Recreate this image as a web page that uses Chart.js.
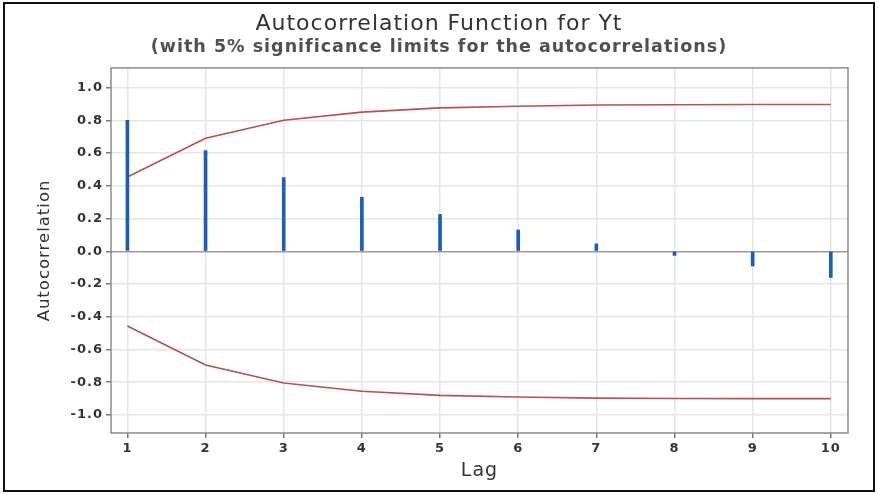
<!DOCTYPE html>
<html>
<head>
<meta charset="utf-8">
<script src="https://cdn.jsdelivr.net/npm/chart.js@4.4.1/dist/chart.umd.min.js"></script>
<style>
  html, body { margin: 0; padding: 0; background: #fff; }
  #wrap { position: relative; width: 878px; height: 494px; }
</style>
</head>
<body>
<div id="wrap"><canvas id="acf" width="878" height="494"></canvas></div>
<script>
// datos
const lags = [1, 2, 3, 4, 5, 6, 7, 8, 9, 10];
const acf = [0.80, 0.615, 0.45, 0.33, 0.225, 0.13, 0.045, -0.025, -0.09, -0.16];
const upperLimit = [0.454, 0.69, 0.80, 0.85, 0.876, 0.886, 0.893, 0.895, 0.896, 0.896];
const lowerLimit = [-0.456, -0.695, -0.805, -0.855, -0.88, -0.89, -0.897, -0.899, -0.90, -0.90];
const yTicks = [-1.0, -0.8, -0.6, -0.4, -0.2, 0.0, 0.2, 0.4, 0.6, 0.8, 1.0];
const xTicks = lags;

const textColor = '#333';
const fontName = "'DejaVu Sans', sans-serif";

// fondo, espaciado de letras, marco del grafico y borde exterior
const framePlugin = {
  id: 'frame',
  beforeDraw(chart) {
    const c = chart.ctx;
    c.save();
    c.fillStyle = '#fff';
    c.fillRect(0, 0, chart.width, chart.height);
    c.restore();
    // el texto del original es algo mas ancho
    c.letterSpacing = '1px';
  },
  afterDraw(chart) {
    const a = chart.chartArea;
    const c = chart.ctx;
    c.save();
    c.strokeStyle = '#8a8a8a';
    c.lineWidth = 1.5;
    c.strokeRect(a.left, a.top, a.right - a.left, a.bottom - a.top);
    c.strokeStyle = '#111';
    c.lineWidth = 2;
    c.strokeRect(4, 3, 870, 488);
    c.restore();
  }
};

const ctx = document.getElementById('acf');

new Chart(ctx, {
  data: {
    datasets: [
      {
        type: 'bar',
        label: 'ACF',
        data: lags.map((l, i) => ({ x: l, y: acf[i] })),
        backgroundColor: '#1d5db3',
        borderWidth: 0,
        barThickness: 3,
        order: 1
      },
      {
        type: 'line',
        label: 'Upper',
        data: lags.map((l, i) => ({ x: l, y: upperLimit[i] })),
        borderColor: '#bb4f4f',
        borderWidth: 1.6,
        pointRadius: 0,
        fill: false,
        order: 2
      },
      {
        type: 'line',
        label: 'Lower',
        data: lags.map((l, i) => ({ x: l, y: lowerLimit[i] })),
        borderColor: '#bb4f4f',
        borderWidth: 1.6,
        pointRadius: 0,
        fill: false,
        order: 2
      }
    ]
  },
  options: {
    responsive: false,
    animation: false,
    layout: { padding: 0 },
    plugins: {
      legend: { display: false },
      tooltip: { enabled: false },
      title: {
        display: true,
        text: 'Autocorrelation Function for Yt',
        color: textColor,
        font: { family: fontName, size: 22, weight: 'normal' },
        padding: { top: 11, bottom: 0 }
      },
      subtitle: {
        display: true,
        text: '(with 5% significance limits for the autocorrelations)',
        color: '#505050',
        font: { family: fontName, size: 17.5, weight: 'bold' },
        padding: { top: 0, bottom: 9.5 }
      }
    },
    scales: {
      x: {
        type: 'linear',
        min: 0.79,
        max: 10.22,
        offset: false,
        afterBuildTicks(scale) { scale.ticks = xTicks.map(v => ({ value: v })); },
        afterFit(scale) { scale.height = 61; },
        grid: {
          offset: false,
          color: '#e6e6e6',
          lineWidth: 1.5,
          tickColor: '#777',
          tickLength: 5
        },
        border: { display: false },
        ticks: {
          color: textColor,
          font: { family: fontName, size: 13, weight: 'bold' },
          padding: 3,
          maxRotation: 0
        },
        title: {
          display: true,
          text: 'Lag',
          color: textColor,
          font: { family: fontName, size: 19, weight: 'normal' },
          padding: { top: 0, bottom: 12 }
        }
      },
      y: {
        min: -1.11,
        max: 1.12,
        afterBuildTicks(scale) { scale.ticks = yTicks.map(v => ({ value: v })); },
        afterFit(scale) { scale.width = 111; },
        grid: {
          color: c => (c.tick && c.tick.value === 0 ? '#9a9a9a' : '#e6e6e6'),
          lineWidth: 1.5,
          tickColor: '#777',
          tickLength: 5
        },
        border: { display: false },
        ticks: {
          color: textColor,
          font: { family: fontName, size: 13, weight: 'bold' },
          padding: 3,
          callback: v => v.toFixed(1)
        },
        title: {
          display: true,
          text: 'Autocorrelation',
          color: textColor,
          font: { family: fontName, size: 16.5, weight: 'normal' },
          padding: { top: 35, bottom: 0 }
        }
      },
      // eje vacio a la derecha, solo deja el margen
      margen: {
        position: 'right',
        display: true,
        afterFit(scale) { scale.width = 30; },
        grid: { display: false },
        border: { display: false },
        ticks: { display: false }
      }
    }
  },
  plugins: [framePlugin]
});
</script>
</body>
</html>
